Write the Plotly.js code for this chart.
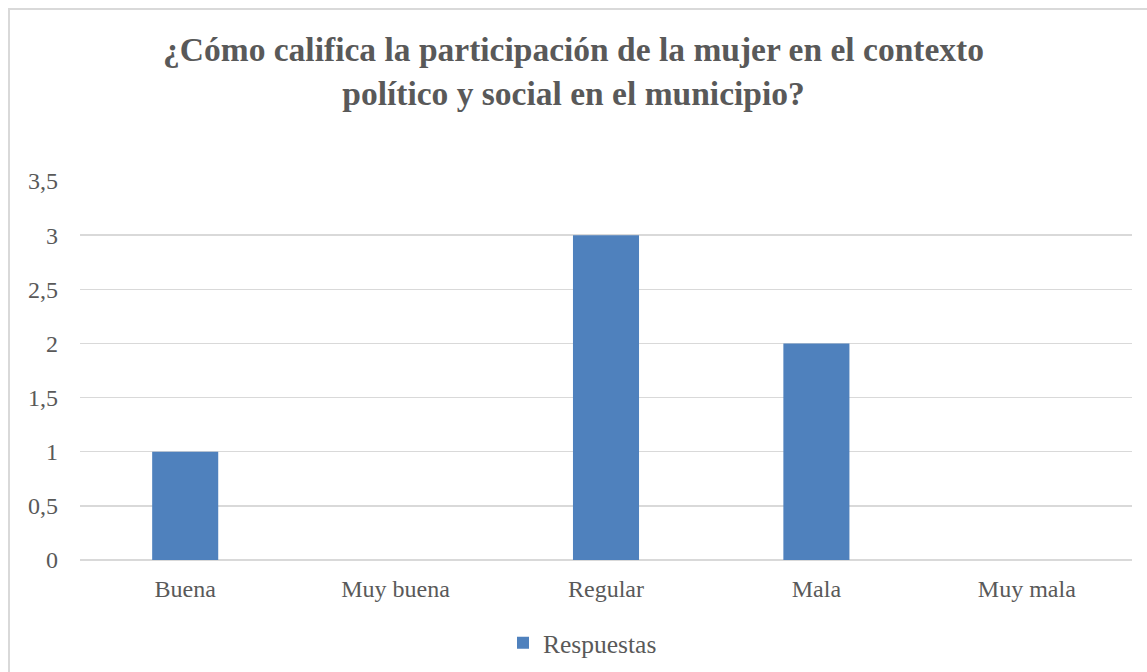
<!DOCTYPE html>
<html>
<head>
<meta charset="utf-8">
<script src="https://cdn.plot.ly/plotly-3.0.1.min.js"></script>
<style>
html,body{margin:0;padding:0;background:#fff;overflow:hidden;}
#frame{position:absolute;left:8px;top:8px;width:1200px;height:720px;border:2px solid #d9d9d9;box-sizing:border-box;}
#chart{position:absolute;left:0;top:0;width:1147px;height:672px;}
</style>
</head>
<body>
<div id="frame"></div>
<div id="chart"></div>
<script>
const categories = ["Buena", "Muy buena", "Regular", "Mala", "Muy mala"];
const respuestas = [1, 0, 3, 2, 0];
const seriesName = "Respuestas";
const yTicks = [0, 0.5, 1, 1.5, 2, 2.5, 3, 3.5];
const titleText = "¿Cómo califica la participación de la mujer en el contexto<br>político y social en el municipio?";

const serif = "Liberation Serif, Times New Roman, serif";
const grey = "#595959";

Plotly.newPlot("chart", [{
  type: "bar",
  x: categories,
  y: respuestas,
  name: seriesName,
  marker: {color: "#4f81bd"},
  showlegend: true
}], {
  width: 1147, height: 672,
  separators: ",.",
  paper_bgcolor: "rgba(0,0,0,0)",
  plot_bgcolor: "rgba(0,0,0,0)",
  margin: {l: 80, r: 15, t: 181, b: 111.5},
  bargap: 0.686,
  font: {family: serif, color: grey, size: 24},
  title: {
    text: "<b>" + titleText + "</b>",
    font: {family: serif, size: 33.5, color: grey},
    xref: "container", x: 0.5, xanchor: "center",
    yref: "container", y: 0.909, yanchor: "top"
  },
  xaxis: {
    type: "category",
    showgrid: false, zeroline: false,
    showline: false,
    ticks: "",
    ticklabelstandoff: 12,
    tickfont: {family: serif, size: 24, color: grey}
  },
  yaxis: {
    range: [0, 3.5],
    tickvals: yTicks,
    showgrid: true, gridcolor: "#d9d9d9", gridwidth: 1.5,
    zeroline: true, zerolinecolor: "#d9d9d9", zerolinewidth: 1.5,
    showline: false, ticks: "",
    ticklabelstandoff: 21,
    tickfont: {family: serif, size: 24, color: grey}
  },
  legend: {
    orientation: "h",
    xref: "container", yref: "container",
    x: 503/1147, xanchor: "left",
    y: 0.043, yanchor: "middle",
    font: {family: serif, size: 25.5, color: grey},
    itemwidth: 30
  }
}, {displayModeBar: false, staticPlot: true});
</script>
</body>
</html>
